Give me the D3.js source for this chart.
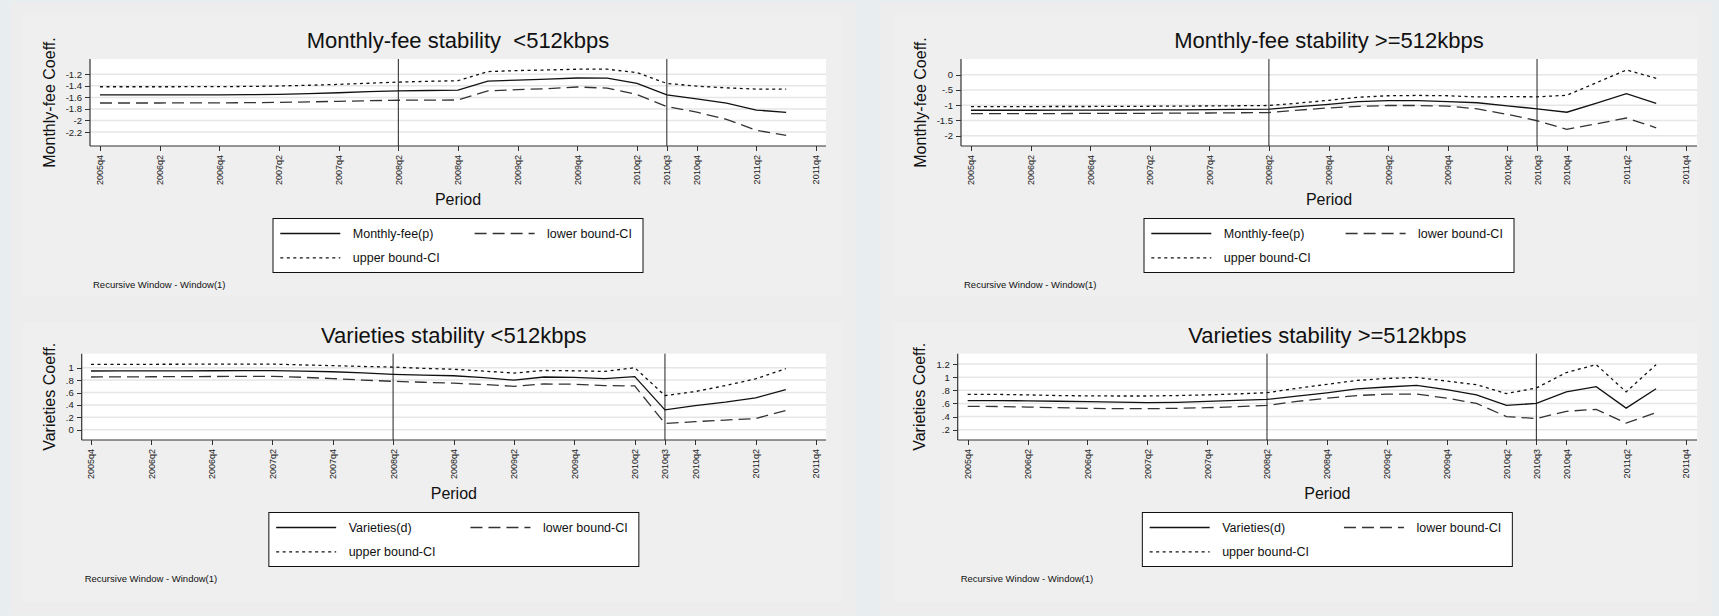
<!DOCTYPE html>
<html lang="en">
<head>
<meta charset="UTF-8">
<title>Recursive stability estimates</title>
<script src="https://d3js.org/d3.v7.min.js"></script>
<style>
    body { margin: 0; background: #e8eef0; }
    svg { display: block; font-family: "Liberation Sans", Arial, sans-serif; }
    .axis line { stroke: #333; shape-rendering: crispEdges; }
    .axis text { font-size: 9.5px; fill: #222; }
    .grid line { stroke: #e6e6e6; stroke-width: 1.5px; }
</style>
</head>
<body>
<div id="chart"></div>
<script>
// quarters that carry an estimate (2005q4 .. 2011q3)
const quarters = ["2005q4",
    "2006q1", "2006q2", "2006q3", "2006q4",
    "2007q1", "2007q2", "2007q3", "2007q4",
    "2008q1", "2008q2", "2008q3", "2008q4",
    "2009q1", "2009q2", "2009q3", "2009q4",
    "2010q1", "2010q2", "2010q3", "2010q4",
    "2011q1", "2011q2", "2011q3"];
const tickLabels = ["2005q4", "2006q2", "2006q4", "2007q2", "2007q4", "2008q2", "2008q4",
    "2009q2", "2009q4", "2010q2", "2010q3", "2010q4", "2011q2", "2011q4"];
const refLines = ["2008q2", "2010q3"];

// Monthly-fee <512kbps
const fee1Coef  = [-1.557, -1.557, -1.557, -1.557, -1.557, -1.553, -1.547, -1.535, -1.520, -1.500, -1.487, -1.481,
    -1.475, -1.317, -1.300, -1.285, -1.264, -1.268, -1.358, -1.557, -1.627, -1.700, -1.820, -1.860];
const fee1Lower = [-1.697, -1.697, -1.697, -1.696, -1.695, -1.692, -1.687, -1.678, -1.668, -1.658, -1.650, -1.647,
    -1.645, -1.487, -1.465, -1.450, -1.420, -1.440, -1.550, -1.760, -1.855, -1.980, -2.170, -2.260];
const fee1Upper = [-1.416, -1.416, -1.416, -1.415, -1.414, -1.410, -1.403, -1.390, -1.375, -1.355, -1.335, -1.322,
    -1.311, -1.153, -1.135, -1.125, -1.112, -1.112, -1.170, -1.358, -1.405, -1.435, -1.457, -1.457];

// Monthly-fee >=512kbps
const fee2Coef  = [-1.165, -1.165, -1.165, -1.163, -1.160, -1.158, -1.155, -1.150, -1.145, -1.140, -1.130, -1.050,
    -0.970, -0.880, -0.850, -0.850, -0.880, -0.920, -1.020, -1.120, -1.230, -0.930, -0.620, -0.940];
const fee2Lower = [-1.275, -1.275, -1.275, -1.273, -1.270, -1.268, -1.265, -1.260, -1.255, -1.248, -1.240, -1.160,
    -1.090, -1.040, -1.010, -1.010, -1.030, -1.120, -1.300, -1.510, -1.790, -1.610, -1.420, -1.740];
const fee2Upper = [-1.044, -1.044, -1.044, -1.043, -1.042, -1.040, -1.035, -1.030, -1.025, -1.018, -1.010, -0.930,
    -0.840, -0.740, -0.690, -0.680, -0.690, -0.730, -0.720, -0.725, -0.675, -0.260, 0.155, -0.118];

// Varieties <512kbps
const var1Coef  = [0.947, 0.948, 0.949, 0.950, 0.951, 0.952, 0.952, 0.945, 0.935, 0.915, 0.893, 0.880,
    0.870, 0.840, 0.800, 0.850, 0.845, 0.824, 0.856, 0.320, 0.390, 0.444, 0.513, 0.647];
const var1Lower = [0.850, 0.852, 0.854, 0.856, 0.858, 0.860, 0.860, 0.845, 0.825, 0.800, 0.780, 0.765,
    0.750, 0.730, 0.700, 0.738, 0.733, 0.712, 0.706, 0.100, 0.130, 0.155, 0.180, 0.310];
const var1Upper = [1.053, 1.054, 1.055, 1.056, 1.057, 1.058, 1.058, 1.045, 1.033, 1.020, 1.010, 0.990,
    0.975, 0.945, 0.914, 0.955, 0.950, 0.940, 1.000, 0.550, 0.615, 0.711, 0.820, 0.984];

// Varieties >=512kbps
const var2Coef  = [0.642, 0.642, 0.640, 0.633, 0.627, 0.620, 0.611, 0.617, 0.630, 0.645, 0.662, 0.710,
    0.760, 0.820, 0.850, 0.876, 0.810, 0.730, 0.570, 0.600, 0.775, 0.855, 0.528, 0.824];
const var2Lower = [0.555, 0.553, 0.545, 0.535, 0.525, 0.520, 0.520, 0.525, 0.535, 0.550, 0.570, 0.630,
    0.680, 0.720, 0.740, 0.743, 0.680, 0.600, 0.400, 0.370, 0.480, 0.510, 0.300, 0.460];
const var2Upper = [0.738, 0.737, 0.730, 0.720, 0.715, 0.713, 0.713, 0.720, 0.730, 0.745, 0.763, 0.830,
    0.890, 0.950, 0.980, 0.996, 0.940, 0.885, 0.750, 0.835, 1.070, 1.190, 0.775, 1.190];

const fee1Ticks = [-2.2, -2, -1.8, -1.6, -1.4, -1.2];
const fee2Ticks = [-2, -1.5, -1, -0.5, 0];
const var1Ticks = [0, 0.2, 0.4, 0.6, 0.8, 1];
const var2Ticks = [0.2, 0.4, 0.6, 0.8, 1, 1.2];

const W = 1719, H = 616;

// quarter label -> index, 2005q4 = 0
const qIndex = s => (+s.slice(0, 4) - 2005) * 4 + (+s.slice(5)) - 4;

// Stata style numbers: -.5, .8
const fmt = d => String(+d.toFixed(2)).replace(/^(-?)0\./, "$1.");

const panels = [
    { title: "Monthly-fee stability  <512kbps", ylab: "Monthly-fee Coeff.", main: "Monthly-fee(p)",
      coef: fee1Coef, lower: fee1Lower, upper: fee1Upper, ticks: fee1Ticks,
      box: [10, 2, 856, 309], plot: [90, 59, 826, 146], xr: [100, 816], yr: [132, 74.3], ylabX: 49 },
    { title: "Monthly-fee stability >=512kbps", ylab: "Monthly-fee Coeff.", main: "Monthly-fee(p)",
      coef: fee2Coef, lower: fee2Lower, upper: fee2Upper, ticks: fee2Ticks,
      box: [880, 2, 1712, 309], plot: [961, 59, 1697, 146], xr: [971, 1686], yr: [135.7, 74.7], ylabX: 920 },
    { title: "Varieties stability <512kbps", ylab: "Varieties Coeff.", main: "Varieties(d)",
      coef: var1Coef, lower: var1Lower, upper: var1Upper, ticks: var1Ticks,
      box: [10, 309, 856, 615], plot: [81.7, 353.7, 826, 440], xr: [91, 816], yr: [429.7, 367.7], ylabX: 49 },
    { title: "Varieties stability >=512kbps", ylab: "Varieties Coeff.", main: "Varieties(d)",
      coef: var2Coef, lower: var2Lower, upper: var2Upper, ticks: var2Ticks,
      box: [880, 309, 1712, 615], plot: [957.7, 353.7, 1697, 440], xr: [967.7, 1686], yr: [429.7, 364], ylabX: 919.3 }
];

const styles = {
    coef:  { stroke: "#111", dash: null },
    lower: { stroke: "#333", dash: "12,6" },
    upper: { stroke: "#111", dash: "3,3.5" }
};

const svg = d3.select("#chart").append("svg")
    .attr("width", W)
    .attr("height", H);

svg.append("rect").attr("width", W).attr("height", H).attr("fill", "#e8eef0");

panels.forEach(p => {
    const [bx0, by0, bx1, by1] = p.box;
    const [px0, py0, px1, py1] = p.plot;
    const g = svg.append("g");

    // graph region
    g.append("rect").attr("x", bx0).attr("y", by0).attr("width", bx1 - bx0).attr("height", by1 - by0)
        .attr("fill", "#ededed");
    g.append("rect").attr("x", bx0 + 13).attr("y", by0 + 13).attr("width", bx1 - bx0 - 26).attr("height", by1 - by0 - 26)
        .attr("fill", "#efefef");
    g.append("rect").attr("x", px0).attr("y", py0).attr("width", px1 - px0).attr("height", py1 - py0)
        .attr("fill", "#fff");

    const x = d3.scaleLinear().domain([0, 24]).range(p.xr);
    const y = d3.scaleLinear().domain([p.ticks[0], p.ticks[p.ticks.length - 1]]).range(p.yr);

    // horizontal grid
    g.append("g").attr("class", "grid")
        .selectAll("line").data(p.ticks).enter().append("line")
        .attr("x1", px0).attr("x2", px1)
        .attr("y1", d => y(d)).attr("y2", d => y(d));

    // axes
    const ya = g.append("g").attr("class", "axis")
        .attr("transform", `translate(${px0},0)`)
        .call(d3.axisLeft(y).tickValues(p.ticks).tickSize(5).tickPadding(3).tickFormat(fmt));
    ya.select(".domain").remove();

    const xa = g.append("g").attr("class", "axis")
        .attr("transform", `translate(0,${py1})`)
        .call(d3.axisBottom(x).tickValues(tickLabels.map(qIndex)).tickSize(5)
            .tickFormat((d, i) => tickLabels[i]));
    xa.select(".domain").remove();
    xa.selectAll("text")
        .attr("transform", "rotate(-90)")
        .attr("text-anchor", "end")
        .attr("x", -9)
        .attr("y", 0)
        .attr("dy", "0.33em")
        .style("font-size", "9px");

    g.append("line").attr("x1", px0).attr("x2", px0).attr("y1", py0).attr("y2", py1)
        .attr("stroke", "#333").attr("stroke-width", 1.2);
    g.append("line").attr("x1", px0).attr("x2", px1).attr("y1", py1).attr("y2", py1)
        .attr("stroke", "#333").attr("stroke-width", 1.2);

    // reference lines
    g.selectAll(".ref").data(refLines).enter().append("line")
        .attr("x1", d => x(qIndex(d))).attr("x2", d => x(qIndex(d)))
        .attr("y1", py0).attr("y2", py1)
        .attr("stroke", "#222").attr("stroke-width", 1);

    // series
    const line = d3.line()
        .x((d, i) => x(qIndex(quarters[i])))
        .y(d => y(d));

    ["coef", "lower", "upper"].forEach(k => {
        g.append("path")
            .datum(p[k])
            .attr("fill", "none")
            .attr("stroke", styles[k].stroke)
            .attr("stroke-width", 1.3)
            .attr("stroke-dasharray", styles[k].dash)
            .attr("d", line);
    });

    const cx = (px0 + px1) / 2;

    // titles
    g.append("text").attr("x", cx).attr("y", py0 - 11)
        .attr("text-anchor", "middle").style("font-size", "22px").style("white-space", "pre")
        .attr("fill", "#111").text(p.title);
    g.append("text").attr("transform", `translate(${p.ylabX},${(py0 + py1) / 2}) rotate(-90)`)
        .attr("text-anchor", "middle").attr("dy", "0.35em").style("font-size", "16px")
        .attr("fill", "#111").text(p.ylab);
    g.append("text").attr("x", cx).attr("y", py1 + 59)
        .attr("text-anchor", "middle").style("font-size", "16px")
        .attr("fill", "#111").text("Period");

    // legend
    const lw = 370, lh = 54;
    const lx = cx - lw / 2, ly = py1 + 72.5;
    const lg = g.append("g").attr("transform", `translate(${lx},${ly})`);
    lg.append("rect").attr("width", lw).attr("height", lh)
        .attr("fill", "#fff").attr("stroke", "#111").attr("stroke-width", 1);

    const items = [
        { key: "coef", label: p.main, col: 0, row: 0 },
        { key: "lower", label: "lower bound-CI", col: 1, row: 0 },
        { key: "upper", label: "upper bound-CI", col: 0, row: 1 }
    ];
    items.forEach(it => {
        const ox = it.col === 0 ? 7.3 : 201.6;
        const oy = it.row === 0 ? 15 : 39.4;
        lg.append("line").attr("x1", ox).attr("x2", ox + 60).attr("y1", oy).attr("y2", oy)
            .attr("stroke", styles[it.key].stroke).attr("stroke-width", 1.3)
            .attr("stroke-dasharray", styles[it.key].dash);
        lg.append("text").attr("x", ox + 72.5).attr("y", oy).attr("dy", "0.35em")
            .style("font-size", "12.5px").attr("fill", "#111").text(it.label);
    });

    // note
    g.append("text").attr("x", px0 + 3).attr("y", py1 + 142)
        .style("font-size", "9.5px").attr("fill", "#111")
        .text("Recursive Window - Window(1)");
});
</script>
</body>
</html>
